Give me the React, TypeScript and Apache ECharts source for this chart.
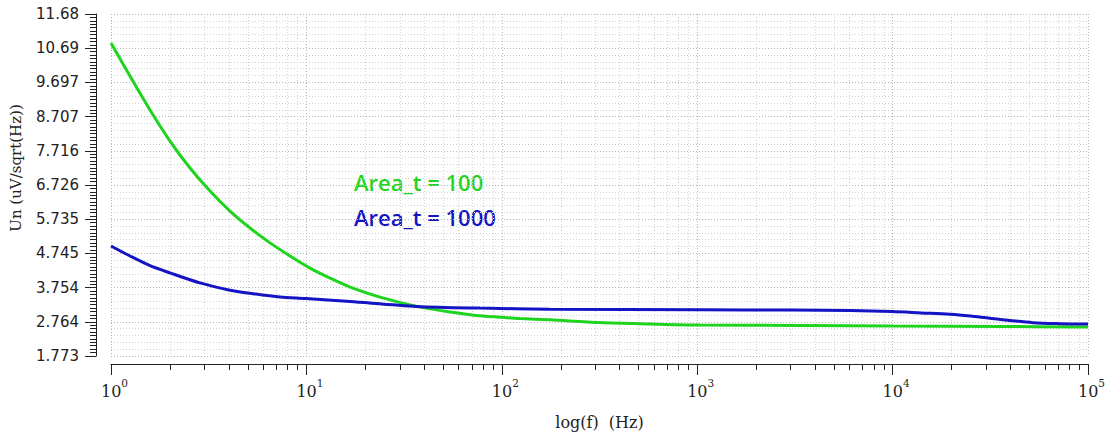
import React, { useEffect, useRef } from 'react';
import * as echarts from 'echarts';

// ---- axis ticks ----
const yTickLabels = ['1.773', '2.764', '3.754', '4.745', '5.735', '6.726', '7.716', '8.707', '9.697', '10.69', '11.68'];
const yMin = 1.773;
const yInterval = 0.99065;
const yMax = yMin + yInterval * 10;
const xDecadeExponents = ['0', '1', '2', '3', '4', '5'];
const xMinorMultipliers = [2, 3, 4, 5, 6, 7, 8, 9];

// ---- series ----
const seriesNames = ['Area_t = 100', 'Area_t = 1000'];
const freqArea100 = [1, 1.251, 1.584, 2.004, 2.537, 3.212, 4.064, 5.145, 6.512, 8.245, 10.43, 13.21, 16.72, 23.8, 36.8, 54.3, 80.1, 124, 176.5, 318, 573, 1033, 3360, 10000, 35500, 100000];
const unArea100 = [10.84, 9.88, 8.9, 8.0, 7.22, 6.55, 5.97, 5.48, 5.05, 4.67, 4.32, 4.03, 3.77, 3.48, 3.21, 3.05, 2.93, 2.86, 2.82, 2.74, 2.7, 2.67, 2.66, 2.64, 2.63, 2.61];
const freqArea1000 = [1, 1.251, 1.584, 2.004, 2.855, 4.064, 5.145, 7.33, 9.95, 16.72, 36.8, 77.3, 176.5, 1033, 3000, 6053, 9930, 14000, 19660, 25000, 31500, 52300, 71900, 100000];
const unArea1000 = [4.96, 4.67, 4.39, 4.18, 3.89, 3.68, 3.59, 3.48, 3.44, 3.35, 3.21, 3.16, 3.13, 3.11, 3.105, 3.09, 3.06, 3.02, 2.98, 2.93, 2.865, 2.738, 2.71, 2.7];

const GREEN = '#1fd41f';
const BLUE = '#1414c4';
const AXIS = '#222222';

export default function App() {
  const ref = useRef<HTMLDivElement>(null);

  useEffect(() => {
    if (!ref.current) return;
    const chart = echarts.init(ref.current, undefined, { renderer: 'svg' });

    const minorX: number[][] = [];
    xDecadeExponents.slice(0, -1).forEach((e) => {
      xMinorMultipliers.forEach((m) => minorX.push([m * Math.pow(10, Number(e)), yMin]));
    });

    const option: any = {
      animation: false,
      textStyle: { fontFamily: 'DejaVu Sans' },
      grid: { left: 111, right: 26, top: 14, bottom: 81, containLabel: false },
      xAxis: {
        type: 'log',
        logBase: 10,
        min: 1,
        max: 100000,
        offset: 8,
        axisLine: { show: true, onZero: false, lineStyle: { color: AXIS, width: 1 } },
        axisTick: { show: true, length: 11, lineStyle: { color: AXIS } },
        axisLabel: {
          margin: 13,
          formatter: (v: number) => {
            const e = Math.round(Math.log10(v));
            return `{s| }{b|10}{sup|${xDecadeExponents[e] ?? e}}`;
          },
          rich: {
            s: { width: 7, fontSize: 10, lineHeight: 10 },
            b: { fontFamily: 'DejaVu Serif', fontSize: 16, color: AXIS, lineHeight: 28 },
            sup: { fontFamily: 'DejaVu Serif', fontSize: 10.5, color: AXIS, lineHeight: 10, verticalAlign: 'top' },
          },
        },
        splitLine: { show: true, lineStyle: { color: '#b4b4b4', type: [1, 2], width: 1 } },
        name: 'log(f)  (Hz)',
        nameLocation: 'middle',
        nameGap: 50,
        nameTextStyle: { fontFamily: 'DejaVu Serif', fontSize: 16, color: AXIS },
      },
      yAxis: [
        {
          type: 'value',
          min: yMin,
          max: yMax,
          interval: yInterval / 5,
          position: 'left',
          offset: 15,
          axisLine: { show: false },
          axisTick: { show: false },
          axisLabel: { show: false },
          splitLine: { show: true, lineStyle: { color: '#d2d2d2', type: [1, 2], width: 1 } },
        },
        {
          type: 'value',
          min: yMin,
          max: yMax,
          interval: yInterval,
          position: 'left',
          offset: 15,
          axisLine: { show: true, lineStyle: { color: AXIS, width: 1 } },
          axisTick: { show: true, length: 11, lineStyle: { color: AXIS } },
          minorTick: { show: true, splitNumber: 10, length: 6, lineStyle: { color: AXIS } },
          axisLabel: {
            margin: 17,
            color: AXIS,
            fontFamily: 'DejaVu Sans',
            fontSize: 15,
            formatter: (v: number) => yTickLabels[Math.round((v - yMin) / yInterval)] ?? '',
          },
          splitLine: { show: true, lineStyle: { color: '#b4b4b4', type: [1, 2], width: 1 } },
        },
      ],
      graphic: [
        {
          type: 'text',
          x: 16,
          y: 168,
          rotation: Math.PI / 2,
          style: {
            text: 'Un (uV/sqrt(Hz))',
            fill: AXIS,
            font: '15px "DejaVu Serif"',
            textAlign: 'center',
            textVerticalAlign: 'middle',
          },
        },
        {
          type: 'text',
          x: 354,
          y: 182,
          style: {
            text: seriesNames[0],
            fill: GREEN,
            font: '600 22px "Open Sans"',
            textAlign: 'left',
            textVerticalAlign: 'middle',
          },
        },
        {
          type: 'text',
          x: 354,
          y: 217,
          style: {
            text: seriesNames[1],
            fill: BLUE,
            font: '600 22px "Open Sans"',
            textAlign: 'left',
            textVerticalAlign: 'middle',
          },
        },
      ],
      series: [
        {
          type: 'custom',
          name: 'minorGrid',
          xAxisIndex: 0,
          yAxisIndex: 1,
          silent: true,
          clip: false,
          data: minorX,
          renderItem: (_params: any, api: any) => {
            const f = api.value(0);
            const top = api.coord([f, yMax]);
            const bot = api.coord([f, yMin]);
            const x = Math.round(top[0]) + 0.5;
            return {
              type: 'group',
              children: [
                {
                  type: 'line',
                  shape: { x1: x, y1: top[1], x2: x, y2: bot[1] },
                  style: { stroke: '#d2d2d2', lineWidth: 1, lineDash: [1, 2] },
                },
                {
                  type: 'line',
                  shape: { x1: x, y1: bot[1] + 8, x2: x, y2: bot[1] + 14 },
                  style: { stroke: AXIS, lineWidth: 1 },
                },
              ],
            };
          },
        },
        {
          type: 'line',
          name: seriesNames[0],
          xAxisIndex: 0,
          yAxisIndex: 1,
          data: freqArea100.map((f, i) => [f, unArea100[i]]),
          showSymbol: false,
          smooth: 0.3,
          lineStyle: { color: GREEN, width: 3 },
          itemStyle: { color: GREEN },
        },
        {
          type: 'line',
          name: seriesNames[1],
          xAxisIndex: 0,
          yAxisIndex: 1,
          data: freqArea1000.map((f, i) => [f, unArea1000[i]]),
          showSymbol: false,
          smooth: 0.3,
          lineStyle: { color: BLUE, width: 3 },
          itemStyle: { color: BLUE },
        },
      ],
    };

    chart.setOption(option);
    return () => chart.dispose();
  }, []);

  return (
    <div
      ref={ref}
      style={{ position: 'fixed', left: 0, top: 0, width: 1114, height: 437, background: '#ffffff' }}
    />
  );
}
